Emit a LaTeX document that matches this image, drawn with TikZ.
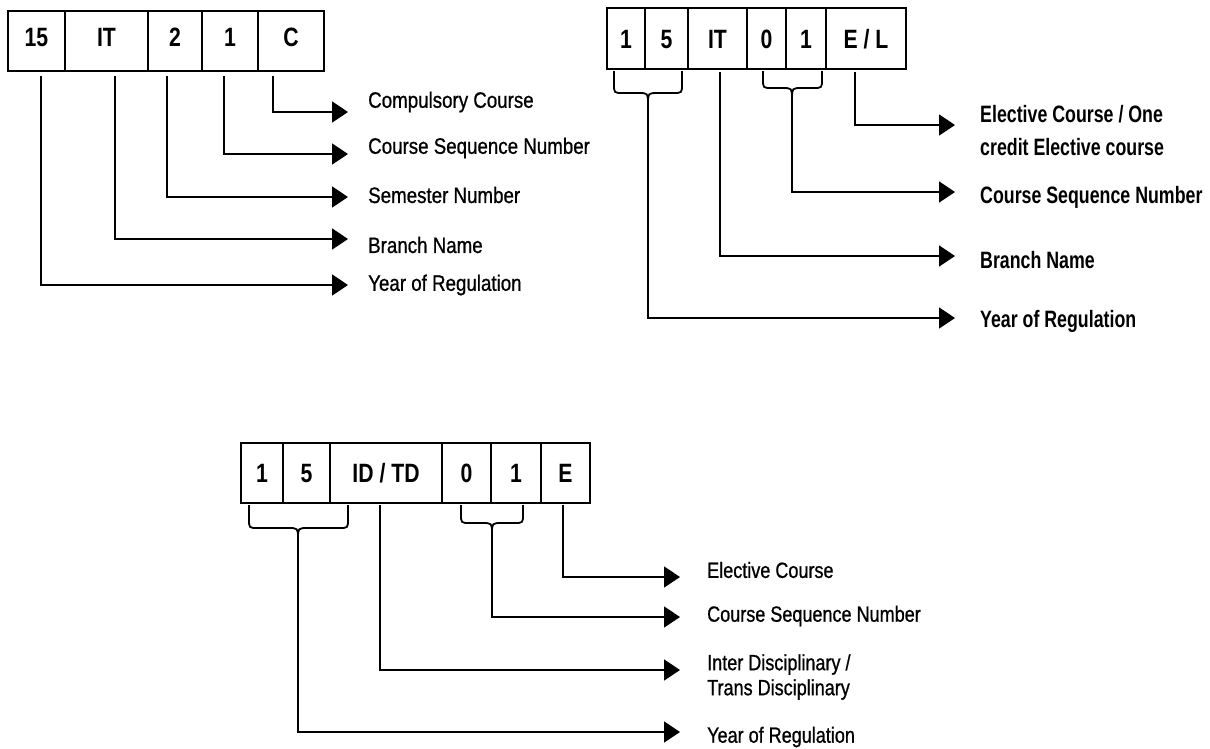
\documentclass[tikz,border=0pt]{standalone}
\usepackage{fontspec}
\usetikzlibrary{positioning,arrows.meta,calc}

\newfontfamily\cellfont[FakeStretch=0.8,UprightFont={* Bold}]{Liberation Sans}
\newfontfamily\lblfont[FakeStretch=0.84,FakeBold=0.8]{Liberation Sans}
\newfontfamily\lblboldfont[FakeStretch=0.75,UprightFont={* Bold}]{Liberation Sans}
\newfontfamily\lblnarrowfont[FakeStretch=0.82,FakeBold=0.8]{Liberation Sans}

% brace under two cells: left x, right x, middle x, top y, bar y
\newcommand{\cellbrace}[5]{%
  \draw[brc] (#1,#4) -- (#1,#5-9) .. controls (#1,#5) .. (#1+9,#5) -- (#3-10,#5)
    .. controls (#3,#5) .. (#3,#5+11) .. controls (#3,#5) .. (#3+10,#5)
    -- (#2-9,#5) .. controls (#2,#5) .. (#2,#5-9) -- (#2,#4);}

\tikzset{
  cell/.style={draw, line width=1.4pt, minimum height=60, inner sep=0pt, outer sep=0pt,
    font=\cellfont\fontsize{26.5}{30}\selectfont, text height=19pt, text depth=0pt},
  lead/.style={line width=1.8pt, -{Triangle[length=16pt,width=21pt]}},
  brc/.style={line width=1.8pt},
  lblA/.style={anchor=west, inner sep=0pt, align=left, font=\lblfont\fontsize{22.3}{28}\selectfont},
  lblB/.style={anchor=west, inner sep=0pt, align=left, font=\lblboldfont\fontsize{23.7}{33}\selectfont},
  lblC/.style={anchor=west, inner sep=0pt, align=left, font=\lblnarrowfont\fontsize{22}{25}\selectfont},
}

\begin{document}
\begin{tikzpicture}[x=1pt, y=-1pt]
    \fill[white] (0,0) rectangle (1210,748);
    \useasboundingbox (0,0) rectangle (1210,748);

    % code 15 IT 2 1 C
    \node[cell, minimum width=57, anchor=north west, text depth=9pt] (a15) at (8,11) {15};
    \node[cell, minimum width=83, right=0pt of a15, text depth=9pt] (aIT) {IT};
    \node[cell, minimum width=54, right=0pt of aIT, text depth=9pt] (a2) {2};
    \node[cell, minimum width=56, right=0pt of a2, text depth=9pt] (a1) {1};
    \node[cell, minimum width=66, right=0pt of a1, text depth=9pt] (aC) {C};

    \node[lblA] (aL1) at (368,102) {Compulsory Course};
    \node[lblA] (aL2) at (368,148) {Course Sequence Number};
    \node[lblA] (aL3) at (368,195) {Semester Number};
    \node[lblA] (aL4) at (368,245) {Branch Name};
    \node[lblA] (aL5) at (368,285) {Year of Regulation};

    \foreach \n/\y in {1/112, 2/154, 3/197, 4/239, 5/285} {
        \coordinate (aT\n) at (348,\y);
    }
    \draw[lead] ([xshift=-18pt,yshift=-5pt]aC.south) |- (aT1);
    \draw[lead] ([xshift=-6pt,yshift=-5pt]a1.south) |- (aT2);
    \draw[lead] ([xshift=-8pt,yshift=-5pt]a2.south) |- (aT3);
    \draw[lead] ([xshift=8.5pt,yshift=-5pt]aIT.south) |- (aT4);
    \draw[lead] ([xshift=4.5pt,yshift=-5pt]a15.south) |- (aT5);

    % code 1 5 IT 0 1 E/L
    \node[cell, minimum width=38, minimum height=61, anchor=north west] (b1) at (607,8) {1};
    \node[cell, minimum width=43, minimum height=61, right=0pt of b1] (b5) {5};
    \node[cell, minimum width=59, minimum height=61, right=0pt of b5] (bIT) {IT};
    \node[cell, minimum width=39, minimum height=61, right=0pt of bIT] (b0) {0};
    \node[cell, minimum width=40, minimum height=61, right=0pt of b0] (b1b) {1};
    \node[cell, minimum width=80, minimum height=61, right=0pt of b1b] (bEL) {E / L};

    \node[lblB] (bL1) at (980,131) {Elective Course / One\\credit Elective course};
    \node[lblB] (bL2) at (980,197) {Course Sequence Number};
    \node[lblB] (bL3) at (980,260) {Branch Name};
    \node[lblB] (bL4) at (980,321) {Year of Regulation};

    \foreach \n/\y in {1/125, 2/192, 3/256, 4/318} {
        \coordinate (bT\n) at (955,\y);
    }
    \cellbrace{614}{682}{648}{71}{93}
    \cellbrace{763}{822}{792}{71}{88}
    \coordinate (bK1) at (648,104);
    \coordinate (bK2) at (792,99);

    \draw[lead] ([xshift=-11pt,yshift=-3pt]bEL.south) |- (bT1);
    \draw[lead] (bK2) |- (bT2);
    \draw[lead] ([xshift=2.5pt,yshift=-3pt]bIT.south) |- (bT3);
    \draw[lead] (bK1) |- (bT4);

    % code 1 5 ID/TD 0 1 E
    \node[cell, minimum width=42, anchor=north west] (c1) at (241,443) {1};
    \node[cell, minimum width=47, right=0pt of c1] (c5) {5};
    \node[cell, minimum width=112, right=0pt of c5] (cID) {ID / TD};
    \node[cell, minimum width=49, right=0pt of cID] (c0) {0};
    \node[cell, minimum width=50, right=0pt of c0] (c1b) {1};
    \node[cell, minimum width=49, right=0pt of c1b] (cE) {E};

    \node[lblC] (cL1) at (707,570) {Elective Course};
    \node[lblC] (cL2) at (707,616) {Course Sequence Number};
    \node[lblC] (cL3) at (707,677) {Inter Disciplinary /\\Trans Disciplinary};
    \node[lblC] (cL4) at (707,737) {Year of Regulation};

    \foreach \n/\y in {1/577, 2/617, 3/670, 4/732} {
        \coordinate (cT\n) at (680,\y);
    }
    \cellbrace{249}{348}{298}{505}{528}
    \cellbrace{461}{523}{492}{505}{523}
    \coordinate (cK1) at (298,539);
    \coordinate (cK2) at (492,534);

    \draw[lead] ([xshift=-2.5pt,yshift=-2pt]cE.south) |- (cT1);
    \draw[lead] (cK2) |- (cT2);
    \draw[lead] ([xshift=-6pt,yshift=-2pt]cID.south) |- (cT3);
    \draw[lead] (cK1) |- (cT4);
\end{tikzpicture}
\end{document}
